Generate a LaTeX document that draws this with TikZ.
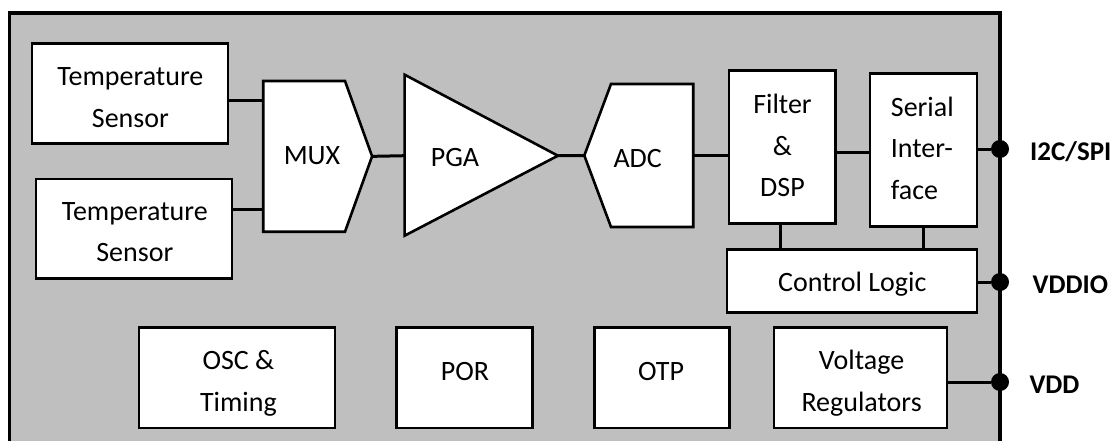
\documentclass[tikz,border=0pt]{standalone}
\usepackage{fontspec}
\setmainfont{Carlito}
\definecolor{chipgrey}{HTML}{BFBFBF}
\newcommand{\lbl}[4][c]{\raisebox{#3pt}[0pt][0pt]{\makebox[0pt]{\kern#2pt\kern#2pt\begin{tabular}[c]{@{}#1@{}}#4\end{tabular}}}}
\tikzset{
  box/.style={draw=black,fill=white,line width=2.6pt,rectangle,inner sep=0pt,outer sep=0pt,font=\fontsize{28}{41.5}\selectfont},
  outline/.style={draw=black,fill=white,line width=2.6pt,line join=miter},
  ghost/.style={rectangle,inner sep=0pt,outer sep=0pt,font=\fontsize{28}{41.5}\selectfont},
  wire/.style={draw=black,line width=3pt},
  pin/.style={circle,fill=black,inner sep=0pt,minimum size=18pt},
  pinlabel/.style={anchor=base west,inner sep=0pt,font=\fontsize{27}{32}\selectfont\bfseries},
}
\begin{document}
\begin{tikzpicture}[x=1pt,y=-1pt]
\useasboundingbox (0,0) rectangle (1115,441);
% chip body, open at the bottom of the picture
\fill[chipgrey] (9.6,13) rectangle (1000,441);
\draw[black,line width=3.4pt,line join=miter] (9.6,441) -- (9.6,13) -- (1000,13) -- (1000,441);

% rectangular blocks
\node[box,minimum width=195.8pt,minimum height=100pt] (ts1) at (130,93.7) {\lbl{.4}{-10.8}{Temperature\\Sensor}};
\node[box,minimum width=196pt,minimum height=99.7pt] (ts2) at (134,228.8) {\lbl{.8}{-10.2}{Temperature\\Sensor}};
\node[box,minimum width=106.5pt,minimum height=153pt] (filt) at (782.1,147.2) {\lbl{.4}{-5.8}{Filter\\\&\\DSP}};
\node[box,minimum width=106.8pt,minimum height=152.6pt] (si) at (923.4,150) {\lbl[l]{-1.1}{-5.5}{Serial\\Inter-\\face}};
\node[box,minimum width=249.7pt,minimum height=63.4pt] (ctl) at (852,281) {\lbl{.3}{-8.8}{Control Logic}};
\node[box,minimum width=196pt,minimum height=100.3pt] (osc) at (237,377.8) {\lbl{1.4}{-10.7}{OSC \&\\Timing}};
\node[box,minimum width=135.7pt,minimum height=100.3pt] (por) at (464.6,377.8) {\lbl{.4}{-.2}{POR}};
\node[box,minimum width=135pt,minimum height=100.3pt] (otp) at (661.8,377.8) {\lbl{-.8}{-.2}{OTP}};
\node[box,minimum width=173.2pt,minimum height=100.3pt] (vr) at (860.5,377.8) {\lbl{1.1}{-10.7}{Voltage\\Regulators}};

% MUX
\draw[outline] (263.2,81) -- (345,81) -- (372.1,156.3) -- (345,231.7) -- (263.2,231.7) -- cycle;
\node[ghost,minimum width=108.9pt,minimum height=150.7pt] (mux) at (317.65,156.35) {\lbl{-5.65}{-6.15}{MUX}};
% PGA
\draw[outline] (404.6,74.7) -- (557.9,155.7) -- (404.6,235.7) -- cycle;
\node[ghost,minimum width=153.3pt,minimum height=161pt] (pga) at (481.25,155.7) {\lbl{-26.25}{-8.3}{PGA}};
% ADC
\draw[outline] (611,84) -- (693.2,84) -- (693.2,227) -- (611,227) -- (584.3,155.5) -- cycle;
\node[ghost,minimum width=108.9pt,minimum height=143pt] (adc) at (638.75,155.5) {\lbl{-1.05}{-10}{ADC}};

% pins
\node[pin] (p1) at (1000,149) {};
\node[pin] (p2) at (1000,282) {};
\node[pin] (p3) at (1000,382) {};
\node[pinlabel] (l1) at (1030,160) {I2C/SPI};
\node[pinlabel] (l2) at (1032.5,293.3) {VDDIO};
\node[pinlabel] (l3) at (1029.3,393.3) {VDD};

% connection points that are off-centre on a block edge
\coordinate (in1) at (263.2,101);
\coordinate (in2) at (263.2,209.3);
\coordinate (fs) at (835.4,152);
\coordinate (fc) at (780,223.7);

% connectors
\draw[wire] (ts1.east |- in1) -- (in1);
\draw[wire] (ts2.east |- in2) -- (in2);
\draw[wire] (mux.east) -- (pga.west);
\draw[wire] (pga.east) -- (adc.west);
\draw[wire] (adc.east) -- (filt.west |- adc.east);
\draw[wire] (fs) -- (si.west |- fs);
\draw[wire] (fc) -- (ctl.north -| fc);
\draw[wire] (si.south) -- (ctl.north -| si.south);
\draw[wire] (si.east |- p1) -- (p1);
\draw[wire] (ctl.east |- p2) -- (p2);
\draw[wire] (vr.east |- p3) -- (p3);
\end{tikzpicture}
\end{document}
